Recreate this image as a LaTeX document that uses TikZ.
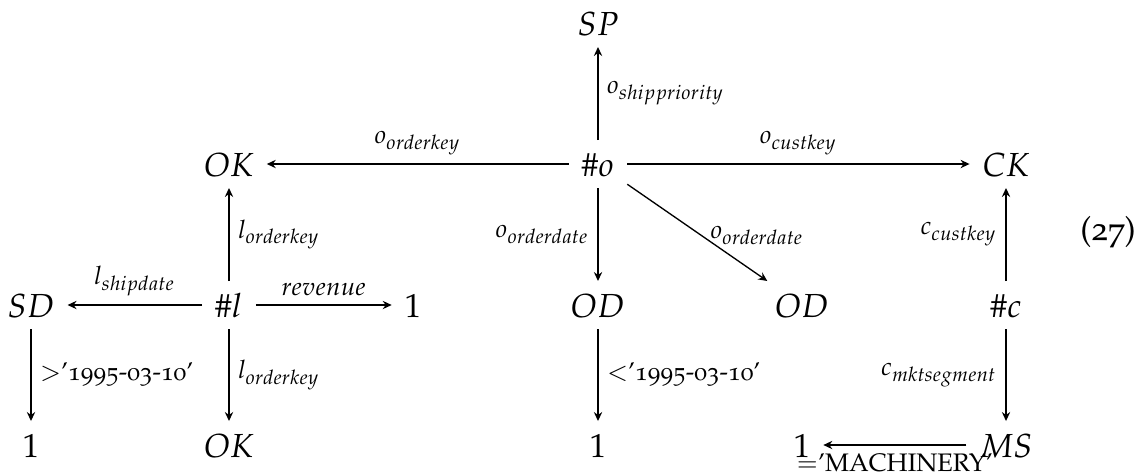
\documentclass[tikz,border=0pt]{standalone}
\usepackage[T1]{fontenc}
\usepackage[osf]{mathpazo}
\usepackage{amsmath}
\usetikzlibrary{arrows.meta}
\newcommand{\mylab}[1]{$\scriptstyle #1$}
\begin{document}
\begin{tikzpicture}[x=0.3pt,y=-0.3pt,
  obj/.style={anchor=base, inner xsep=3.7pt, inner ysep=3pt, text height=7.6pt, text depth=0.4pt},
  arr/.style={-{Stealth[length=2.7pt,width=2.5pt,inset=0.9pt]}, line width=0.4pt},
  lab/.style={inner sep=2.5pt}]
\useasboundingbox (0,0) rectangle (1142,475);
% objects
\node[obj] (SP)    at (598,35)  {$SP$};
\node[obj] (o)     at (598,176) {$\#o$};
\node[obj] (OKa)   at (229,176) {$OK$};
\node[obj] (CK)    at (1006,176) {$CK$};
\node[obj] (l)     at (229,317) {$\#l$};
\node[obj] (SD)    at (31,317)  {$SD$};
\node[obj] (onea)  at (413,317) {$1$};
\node[obj] (ODa)   at (598,317) {$OD$};
\node[obj] (ODb)   at (802,317) {$OD$};
\node[obj] (c)     at (1006,317) {$\#c$};
\node[obj] (oneb)  at (31,457)  {$1$};
\node[obj] (OKb)   at (229,457) {$OK$};
\node[obj] (onec)  at (598,457) {$1$};
\node[obj] (oned)  at (802,457) {$1$};
\node[obj] (MS)    at (1006,457) {$MS$};
\node (eq) at (1108,232) {(27)};
% arrows
\draw[arr] (o) -- node[lab,right] {\mylab{o_{shippriority}}} (SP);
\draw[arr] (o) -- node[lab,above] {\mylab{o_{orderkey}}} (OKa);
\draw[arr] (o) -- node[lab,above] {\mylab{o_{custkey}}} (CK);
\draw[arr] (o) -- node[lab,left] {\mylab{o_{orderdate}}} (ODa);
\draw[arr] (o) -- node[lab,pos=0.53,anchor=west] {\mylab{o_{orderdate}}} (ODb);
\draw[arr] (l) -- node[lab,right] {\mylab{l_{orderkey}}} (OKa);
\draw[arr] (l) -- node[lab,above] {\mylab{l_{shipdate}}} (SD);
\draw[arr] (l) -- node[lab,above] {\mylab{revenue}} (onea);
\draw[arr] (l) -- node[lab,right] {\mylab{l_{orderkey}}} (OKb);
\draw[arr] (SD) -- node[lab,right] {\mylab{>\text{'1995-03-10'}}} (oneb);
\draw[arr] (ODa) -- node[lab,right] {\mylab{<\text{'1995-03-10'}}} (onec);
\draw[arr] (c) -- node[lab,left] {\mylab{c_{custkey}}} (CK);
\draw[arr] (c) -- node[lab,left] {\mylab{c_{mktsegment}}} (MS);
\draw[arr] (MS) -- node[lab,below] {\mylab{=\text{'MACHINERY'}}} (oned);
\end{tikzpicture}
\end{document}
